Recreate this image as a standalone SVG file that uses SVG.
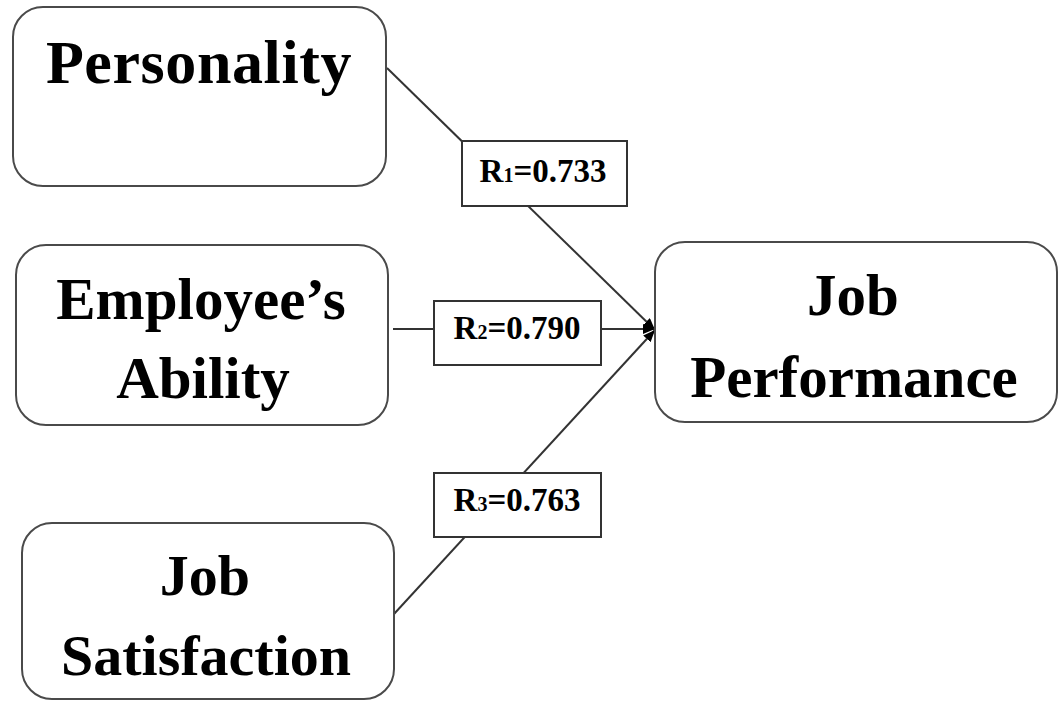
<svg xmlns="http://www.w3.org/2000/svg" width="1059" height="702" viewBox="0 0 1059 702">
  <style>
    .node { fill: #ffffff; stroke: #4a4a4a; stroke-width: 2; }
    .lbl { fill: #ffffff; stroke: #333333; stroke-width: 2; }
    .big { font-family: "Liberation Serif", "Times New Roman", serif; font-weight: bold; fill: #000000; text-anchor: middle; }
    .small { font-family: "Liberation Serif", "Times New Roman", serif; font-weight: bold; font-size: 33px; fill: #000000; text-anchor: middle; }
    .edge { stroke: #333333; stroke-width: 2; fill: none; }
  </style>
  <defs>
    <marker id="arrow" markerUnits="userSpaceOnUse" markerWidth="12" markerHeight="10" refX="12" refY="5" orient="auto">
      <path d="M0,0 L12,5 L0,10 z" fill="#000000"/>
    </marker>
  </defs>
  <rect width="1059" height="702" fill="#ffffff"/>

  <g id="connectors">
    <line class="edge" x1="387" y1="68" x2="655" y2="330" marker-end="url(#arrow)"/>
    <line class="edge" x1="393" y1="329" x2="655" y2="329" marker-end="url(#arrow)"/>
    <line class="edge" x1="394" y1="614" x2="655" y2="330" marker-end="url(#arrow)"/>
  </g>

  <g id="label-r1">
    <rect class="lbl" x="462" y="141" width="165" height="65"/>
    <text class="small" x="543" y="182">R<tspan font-size="20">1</tspan>=0.733</text>
  </g>
  <g id="label-r2">
    <rect class="lbl" x="434" y="301" width="167" height="64"/>
    <text class="small" x="517" y="339">R<tspan font-size="20">2</tspan>=0.790</text>
  </g>
  <g id="label-r3">
    <rect class="lbl" x="434" y="473" width="167" height="64"/>
    <text class="small" x="517" y="511">R<tspan font-size="20">3</tspan>=0.763</text>
  </g>

  <g id="node-personality">
    <rect class="node" x="13" y="7" width="373" height="179" rx="30" ry="30"/>
    <text class="big" x="199" y="83" font-size="62" letter-spacing="0.6">Personality</text>
  </g>

  <g id="node-ability">
    <rect class="node" x="16" y="245" width="372" height="180" rx="30" ry="30"/>
    <text class="big" x="201" y="319" font-size="59">Employee’s</text>
    <text class="big" x="203" y="398" font-size="59">Ability</text>
  </g>

  <g id="node-satisfaction">
    <rect class="node" x="22" y="523" width="372" height="176" rx="30" ry="30"/>
    <text class="big" x="205" y="595" font-size="58">Job</text>
    <text class="big" x="206" y="675" font-size="58">Satisfaction</text>
  </g>

  <g id="node-performance">
    <rect class="node" x="655" y="242" width="402" height="180" rx="30" ry="30"/>
    <text class="big" x="853" y="315" font-size="59">Job</text>
    <text class="big" x="854" y="397" font-size="59">Performance</text>
  </g>
</svg>
